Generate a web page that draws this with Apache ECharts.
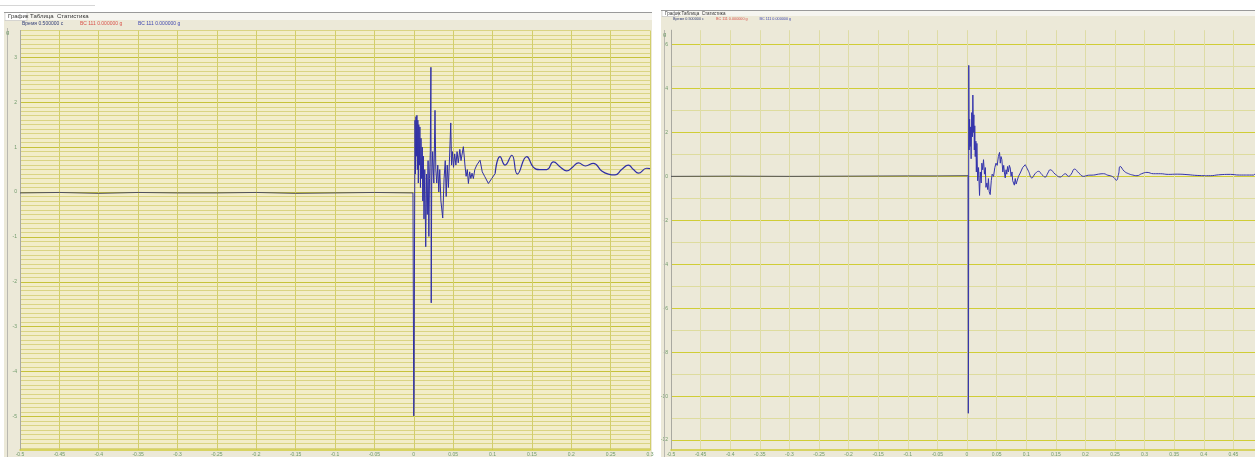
<!DOCTYPE html>
<html>
<head>
<meta charset="utf-8">
<script src="https://cdn.jsdelivr.net/npm/echarts@6/dist/echarts.min.js"></script>
<style>
html, body { margin: 0; padding: 0; background: #fff; }
#main { width: 1255px; height: 457px; }
</style>
</head>
<body>
<div id="main"></div>
<script>
// header texts of the two recorder windows
const tabLabels = ['График', 'Таблица', 'Статистика'];
const legendLabels = ['Время 0.500000 c', 'ВС 111 0.000000 g', 'ВС 111 0.000000 g'];
const unitLabel = 'g';

// axis ranges (s / g) and tick labels
const leftX = { min: -0.5, max: 0.3, step: 0.05 };
const rightX = { min: -0.5, max: 0.4865, step: 0.05 };
const leftY = { min: -5.75, max: 3.6 };
const rightY = { min: -12.45, max: 6.65 };
const leftYLabels = [-5, -4, -3, -2, -1, 0, 1, 2, 3];
const rightYLabels = [-12, -10, -8, -6, -4, -2, 0, 2, 4, 6];
const rightYLines = [-12, -11, -10, -9, -8, -7, -6, -5, -4, -3, -2, -1, 0, 1, 2, 3, 4, 5, 6];

// left record: [time s, acceleration g]
const leftBase = [[-0.5,-0.02],[-0.45,-0.01],[-0.4,-0.03],[-0.35,-0.01],[-0.3,-0.02],[-0.25,-0.02],
  [-0.2,-0.01],[-0.15,-0.03],[-0.1,-0.02],[-0.05,-0.01],[-0.001,-0.02]];
const leftBurst = [[-0.001,-0.02],[0.0,-4.99],[0.0004,-4.5],[0.001,-1.0],[0.0016,1.6],[0.0022,0.4],
  [0.0028,1.68],[0.0034,0.8],[0.004,1.71],[0.0046,0.5],[0.0052,1.6],[0.0058,0.2],[0.0064,1.5],
  [0.0071,0.6],[0.0078,1.45],[0.0085,0.1],[0.0092,1.2],[0.01,0.3],[0.0108,1.0],[0.0115,-0.2],
  [0.0122,0.8],[0.013,-0.6],[0.014,0.5],[0.0152,-1.22],[0.0162,0.4],[0.0172,-0.5],[0.0182,0.7],
  [0.0192,-0.99],[0.02,0.3],[0.021,0.9],[0.0218,2.78],[0.0222,-2.47],[0.0228,0.2],[0.024,0.9],
  [0.0255,0.2],[0.027,1.82],[0.028,0.5],[0.0292,0.2],[0.0305,0.6],[0.0318,0.0],[0.033,0.5],
  [0.0345,-0.2],[0.0368,-0.58],[0.0385,0.3],[0.04,0.7],[0.0412,-0.1],[0.0425,0.6],[0.044,0.1],
  [0.0455,0.8],[0.047,1.54],[0.048,0.6],[0.0492,0.9],[0.0505,0.55],[0.052,0.85],[0.0535,0.6],
  [0.055,0.9],[0.0565,0.65],[0.0585,0.95],[0.06,0.7],[0.063,1.01],[0.065,0.6],[0.0665,0.35],
  [0.068,0.5],[0.0694,0.19],[0.071,0.45],[0.0725,0.3],[0.074,0.42],[0.0757,0.3],[0.0775,0.5],
  [0.08,0.6],[0.0842,0.71],[0.087,0.45],[0.09,0.35],[0.0948,0.19],[0.099,0.3],[0.1033,0.41]];
const leftTail = [[0.1033,0.41],[0.1096,0.79],[0.116,0.6],[0.1245,0.82],[0.1316,0.4],[0.1435,0.79],
  [0.152,0.55],[0.16,0.5],[0.1689,0.5],[0.1774,0.67],[0.186,0.56],[0.1943,0.47],[0.202,0.56],
  [0.2091,0.65],[0.218,0.58],[0.2281,0.64],[0.2387,0.47],[0.247,0.4],[0.2556,0.38],[0.264,0.5],
  [0.2725,0.6],[0.279,0.5],[0.2852,0.42],[0.2958,0.53],[0.3,0.52]];

// right record: [time s, acceleration g]
const rightBase = [[-0.5,0.0],[-0.4,0.01],[-0.3,0.0],[-0.2,0.01],[-0.1,0.02],[-0.05,0.02],[0.0,0.03],[0.0018,0.03]];
const rightBurst = [[0.0018,0.03],[0.0022,-10.78],[0.0026,-8.0],[0.003,5.05],[0.0036,1.2],[0.0044,2.6],
  [0.0054,1.36],[0.0062,2.25],[0.007,0.8],[0.008,2.9],[0.0092,1.8],[0.0099,3.7],[0.0108,2.0],
  [0.0116,2.8],[0.0124,1.2],[0.0131,2.3],[0.0139,0.9],[0.015,1.6],[0.0158,0.2],[0.0167,1.5],
  [0.018,-0.2],[0.0195,0.4],[0.0212,-0.87],[0.0225,0.2],[0.024,-0.3],[0.0251,0.6],[0.0265,0.3],
  [0.0279,0.76],[0.0295,0.1],[0.031,0.4],[0.032,-0.5],[0.0336,-0.3],[0.035,-0.6],[0.0362,-0.1],
  [0.0375,-0.7],[0.0392,-0.83],[0.041,-0.2],[0.0425,0.1],[0.0448,0.0],[0.047,0.4],[0.049,0.6],
  [0.051,0.5],[0.053,0.9],[0.055,1.09],[0.0562,0.6],[0.0575,0.9],[0.0589,0.76],[0.0605,0.2],
  [0.062,0.5],[0.0635,0.1],[0.0646,-0.07],[0.066,0.3],[0.0672,0.1],[0.0685,0.45],[0.07,0.2],
  [0.0715,0.5],[0.073,0.38],[0.0745,0.0],[0.076,0.2],[0.0772,-0.2],[0.0786,-0.23],[0.08,-0.4],
  [0.0815,-0.1],[0.083,-0.35],[0.0843,-0.38],[0.087,0.0],[0.0899,0.15],[0.094,0.4],[0.0984,0.53]];
const rightTail = [[0.0984,0.53],[0.104,0.23],[0.1096,-0.07],[0.115,0.12],[0.1209,0.23],[0.1265,0.08],
  [0.1322,-0.03],[0.1365,0.15],[0.1406,0.3],[0.149,0.1],[0.1575,-0.03],[0.162,0.05],[0.166,0.12],
  [0.1716,0.0],[0.176,0.1],[0.1817,0.33],[0.189,0.15],[0.197,0.0],[0.205,0.05],[0.2139,0.06],
  [0.222,0.1],[0.2308,0.12],[0.238,0.05],[0.242,0.03],[0.248,-0.05],[0.2522,-0.18],[0.256,0.1],
  [0.2589,0.45],[0.2657,0.23],[0.273,0.12],[0.28,0.06],[0.2871,0.03],[0.295,0.12],[0.304,0.18],
  [0.315,0.12],[0.3266,0.12],[0.34,0.09],[0.355,0.1],[0.3716,0.08],[0.39,0.04],[0.4111,0.03],
  [0.425,0.07],[0.4449,0.09],[0.46,0.06],[0.4843,0.06],[0.4865,0.12]];

const FONT = '"Liberation Sans", "DejaVu Sans", sans-serif';

// left: fine grid every 0.1 g, stronger line on whole g
const leftYLines = [];
for (let i = 0; i <= 93; i++) leftYLines.push(+(-5.7 + i * 0.1).toFixed(1));
const leftHColors = leftYLines.map(v => Number.isInteger(v) ? '#c6c23a' : '#dad483');
// right: line each g, stronger on even g
const rightHColors = rightYLines.map(v => Math.abs(v) % 2 === 0 ? '#d0cd36' : '#dedc9e');

function xAxisOf(grid, r, lineColor) {
  return {
    type: 'value', gridIndex: grid, min: r.min, max: r.max, interval: r.step,
    axisLine: { show: true, onZero: false, lineStyle: { color: '#cfcb3a', width: 1.5 } },
    axisTick: { show: false },
    axisLabel: { fontSize: 5, color: '#6f9a6a', margin: 2, fontFamily: FONT, showMaxLabel: grid === 0 },
    splitLine: { show: true, showMaxLine: grid === 0, lineStyle: { color: lineColor, width: 1 } }
  };
}
function yAxisOf(grid, r, lines, labels, colors) {
  return {
    type: 'value', gridIndex: grid, min: r.min, max: r.max,
    axisLine: { show: true, onZero: false, lineStyle: { color: '#a9a9a0', width: 1 } },
    axisTick: { show: false, customValues: lines },
    axisLabel: { fontSize: 5, color: '#6f9a6a', margin: 3, fontFamily: FONT, customValues: labels },
    splitLine: { show: true, lineStyle: { color: colors, width: 1 } }
  };
}
function trace(grid, data, color, width, smooth) {
  return {
    type: 'line', xAxisIndex: grid, yAxisIndex: grid, data: data, showSymbol: false,
    smooth: smooth || false, silent: true, animation: false,
    lineStyle: { color: color, width: width }
  };
}
function txt(x, y, s, color, size) {
  return { type: 'text', z: 100, x: x, y: y,
    style: { text: s, fill: color, font: size + 'px ' + FONT, verticalAlign: 'middle', textVerticalAlign: 'middle' } };
}
function windowChrome(x0, x1, top, sc, plotLeft, plotTop) {
  const tabW = [22, 27, 34].map(w => w * sc);
  const g = [
    { type: 'rect', z: -10, shape: { x: x0, y: top, width: x1 - x0, height: 457 - top }, style: { fill: '#ece9d8' } },
    { type: 'rect', z: -9, shape: { x: x0, y: top, width: x1 - x0, height: 8 * sc }, style: { fill: '#f6f5f0' } },
    { type: 'rect', z: -8, shape: { x: x0 + 1, y: top + 0.5, width: tabW[0], height: 8 * sc }, style: { fill: '#fff', stroke: '#b5b5b5', lineWidth: 0.5 } },
    { type: 'line', z: 5, shape: { x1: x0, y1: top + 0.5, x2: x1, y2: top + 0.5 }, style: { stroke: '#9a9a9a', lineWidth: 1 } },
    { type: 'line', z: 5, shape: { x1: x0 + 3.5, y1: plotTop - 1, x2: x0 + 3.5, y2: 457 }, style: { stroke: '#b9b8b0', lineWidth: 1 } }
  ];
  let tx = x0 + 4;
  tabLabels.forEach((s, i) => { g.push(txt(tx, top + 4.5 * sc, s, '#333', 6 * sc)); tx += tabW[i]; });
  const legX = [plotLeft + 2, plotLeft + 60 * sc, plotLeft + 118 * sc];
  const legC = ['#34407a', '#d9534a', '#4048b0'];
  legendLabels.forEach((s, i) => g.push(txt(legX[i], top + 12 * sc, s, legC[i], 5 * sc)));
  g.push(txt(x0 + 2, plotTop + 3, unitLabel, '#6f9a6a', 6));
  return g;
}

const chart = echarts.init(document.getElementById('main'), null, { renderer: 'canvas' });
chart.setOption({
  backgroundColor: '#ffffff',
  animation: false,
  grid: [
    { left: 20, top: 30.5, width: 630, height: 420.75, show: true, backgroundColor: '#f2edc8', borderWidth: 0 },
    { left: 671, top: 30.2, width: 584, height: 420.2, show: true, backgroundColor: '#ece9d8', borderWidth: 0 }
  ],
  xAxis: [xAxisOf(0, leftX, '#d2ce6c'), xAxisOf(1, rightX, '#dedca6')],
  yAxis: [
    yAxisOf(0, leftY, leftYLines, leftYLabels, leftHColors),
    yAxisOf(1, rightY, rightYLines, rightYLabels, rightHColors)
  ],
  series: [
    trace(0, leftBase, '#50505e', 1),
    trace(0, leftBurst, '#2f2fa6', 1),
    trace(0, leftTail, '#2f2fa6', 1.2, 0.5),
    trace(1, rightBase, '#50505e', 1),
    trace(1, rightBurst, '#3434ac', 1),
    trace(1, rightTail, '#3434ac', 1, 0.5)
  ],
  graphic: [
    { type: 'line', shape: { x1: 0, y1: 5.5, x2: 95, y2: 5.5 }, style: { stroke: '#d6d6d6', lineWidth: 1 } }
  ].concat(windowChrome(4, 652, 12, 1, 20, 29), windowChrome(661, 1255, 10, 0.75, 671, 31))
});
</script>
</body>
</html>
